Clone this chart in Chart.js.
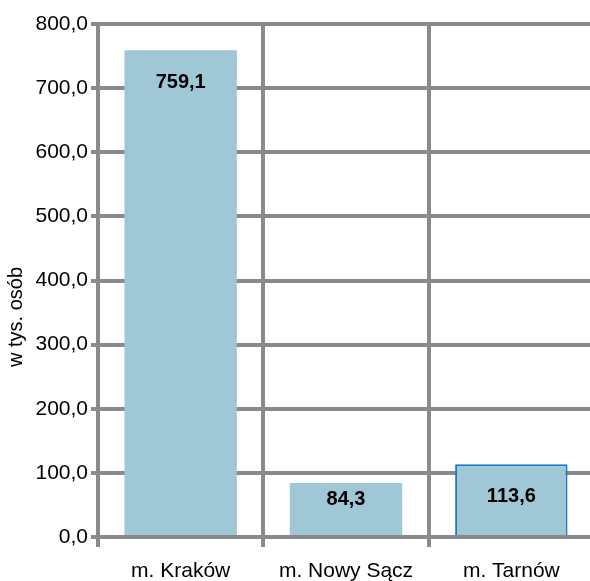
<!DOCTYPE html>
<html>
<head>
<meta charset="utf-8">
<script src="https://cdn.jsdelivr.net/npm/chart.js@4/dist/chart.umd.min.js"></script>
<style>
  html, body { margin: 0; padding: 0; background: #fff; overflow: hidden; }
  #wrap { width: 594px; height: 581px; }
</style>
</head>
<body>
<div id="wrap"><canvas id="chart"></canvas></div>
<script>
// data
const cities = ['m. Kraków', 'm. Nowy Sącz', 'm. Tarnów'];
const population = [759.1, 84.3, 113.6];
const yTicks = [0, 100, 200, 300, 400, 500, 600, 700, 800];
const yTitle = 'w tys. osób';

const fmt = v => v.toFixed(1).replace('.', ',');
const GRID = '#8a8a8a';
const FONT = 'Liberation Sans, Arial, sans-serif';

// value labels inside the bars + rotated axis title
const barLabels = {
  id: 'barLabels',
  afterDatasetsDraw(chart) {
    const c = chart.ctx;
    const meta = chart.getDatasetMeta(0);
    c.save();
    c.font = 'bold 20px ' + FONT;
    c.fillStyle = '#000';
    c.textAlign = 'center';
    c.textBaseline = 'middle';
    meta.data.forEach((bar, i) => {
      const h = bar.base - bar.y;
      const off = Math.max(12, Math.min(32, h - 36));
      c.fillText(fmt(population[i]), bar.x, bar.y + off);
    });
    // y title, sits a bit below the middle in the original
    c.translate(16, 317);
    c.rotate(-Math.PI / 2);
    c.font = '20px ' + FONT;
    c.fillText(yTitle, 0, 0);
    c.restore();
  }
};

new Chart(document.getElementById('chart'), {
  type: 'bar',
  data: {
    labels: cities,
    datasets: [{
      data: population,
      backgroundColor: '#a0c7d6',
      borderColor: ['rgba(0,0,0,0)', 'rgba(0,0,0,0)', '#1a78c2'],
      borderWidth: [0, 0, 2],
      barPercentage: 0.68,
      categoryPercentage: 1
    }]
  },
  options: {
    responsive: true,
    maintainAspectRatio: false,
    animation: false,
    layout: { padding: { top: 24, left: 0, right: 0, bottom: 0 } },
    plugins: { legend: { display: false }, tooltip: { enabled: false } },
    scales: {
      x: {
        offset: true,
        grid: {
          offset: true,
          color: ctx => ctx.index === cities.length ? 'rgba(0,0,0,0)' : GRID,
          lineWidth: 4,
          tickLength: 10
        },
        border: { display: false },
        ticks: { color: '#000', font: { family: FONT, size: 21 }, padding: 12 },
        afterFit: s => { s.height = 44; }
      },
      y: {
        min: 0,
        max: 800,
        afterBuildTicks: s => { s.ticks = yTicks.map(v => ({ value: v })); },
        grid: { color: GRID, lineWidth: 4, tickLength: 7 },
        border: { display: false },
        ticks: {
          color: '#000',
          font: { family: FONT, size: 21 },
          padding: 3,
          callback: v => fmt(v)
        },
        afterFit: s => { s.width = 98; }
      }
    }
  },
  plugins: [barLabels]
});
</script>
</body>
</html>
